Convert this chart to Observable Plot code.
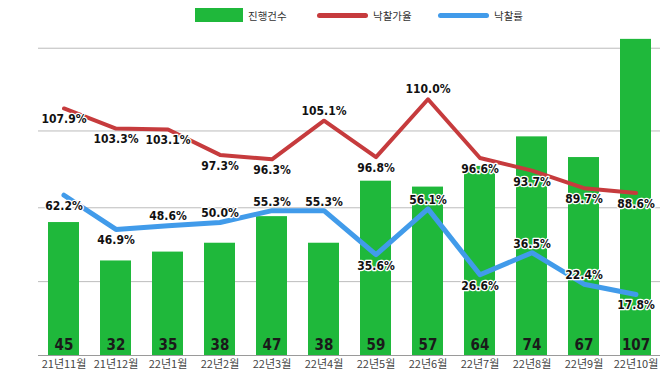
<!DOCTYPE html>
<html><head><meta charset="utf-8">
<script src="https://cdn.jsdelivr.net/npm/d3@7"></script>
<script src="https://cdn.jsdelivr.net/npm/@observablehq/plot@0.6"></script>
<style>
html,body{margin:0;padding:0;background:#fff;}
body{width:670px;height:381px;overflow:hidden;font-family:"Noto Sans CJK KR",sans-serif;}
#legend{position:relative;height:30px;width:670px;}
.item{position:absolute;top:0;height:30px;display:flex;align-items:center;font-size:10.5px;color:#333;}
.sw{display:inline-block;margin-right:5px;}
#chart svg{display:block;}
</style></head><body>
<div id="legend"></div>
<div id="chart"></div>
<script>
// ---- data ----
const months = ["21년11월","21년12월","22년1월","22년2월","22년3월","22년4월","22년5월","22년6월","22년7월","22년8월","22년9월","22년10월"];
const counts = [45,32,35,38,47,38,59,57,64,74,67,107];            // 진행건수
const bidRates = [107.9,103.3,103.1,97.3,96.3,105.1,96.8,110.0,96.6,93.7,89.7,88.6]; // 낙찰가율
const winRates = [62.2,46.9,48.6,50.0,55.3,55.3,35.6,56.1,26.6,36.5,22.4,17.8];      // 낙찰률
const gridValues = [0,25,50,76,104];
const seriesNames = ["진행건수","낙찰가율","낙찰률"];
const colors = ["#1fb83b","#c63b3d","#419bea"];

// ---- legend ----
const legend = document.getElementById("legend");
const legendLeft = [195, 317, 438];
seriesNames.forEach((name, i) => {
  const it = document.createElement("div");
  it.className = "item";
  it.style.left = legendLeft[i] + "px";
  const sw = document.createElement("span");
  sw.className = "sw";
  if (i === 0) { sw.style.width = "48px"; sw.style.height = "14px"; sw.style.background = colors[0]; }
  else { sw.style.width = "51px"; sw.style.height = "5px"; sw.style.borderRadius = "3px"; sw.style.background = colors[i]; }
  it.appendChild(sw);
  const t = document.createElement("span");
  t.textContent = name;
  it.appendChild(t);
  legend.appendChild(it);
});

// ---- chart ----
const data = months.map((m, i) => ({month: m, count: counts[i], bid: bidRates[i], win: winRates[i], i}));
const n = data.length;
const yMax = 110;
const bidY = d3.scaleLinear().domain([51.5, 125.7]).range([0, yMax]);
const winY = d3.scaleLinear().domain([-9.5, 135.9]).range([0, yMax]);

const bidAbove = d => d.i > 0 && d.i < n - 1 && d.bid > bidRates[d.i - 1] && d.bid > bidRates[d.i + 1];
const winBelow = d => d.i === 0 || d.i === n - 1 || (d.win <= winRates[d.i - 1] && d.win <= winRates[d.i + 1]);

const lblFont = "'DejaVu Sans Condensed','DejaVu Sans',sans-serif";
const lbl = (yfn, textfn, filter, dy) => Plot.text(data.filter(filter), {
  x: "month", y: yfn, text: textfn, dy,
  fontSize: 12, fontWeight: "bold", fontFamily: lblFont,
  fill: "#111", stroke: "white", strokeWidth: 2.5, paintOrder: "stroke"
});

const chart = Plot.plot({
  width: 670, height: 351,
  marginLeft: 38, marginRight: 10, marginTop: 0, marginBottom: 26,
  x: {domain: months, paddingInner: 0.41, paddingOuter: 0.123, label: null},
  y: {domain: [0, yMax], axis: null},
  style: {fontFamily: "'Noto Sans CJK KR',sans-serif", background: "#fff"},
  marks: [
    Plot.ruleY(gridValues.slice(1), {stroke: "#bcbcbc", strokeWidth: 1}),
    Plot.barY(data, {x: "month", y: "count", fill: colors[0]}),
    Plot.ruleY([0], {stroke: "#9a9a9a", strokeWidth: 1}),
    Plot.axisX({tickSize: 0, tickPadding: 5, fontSize: 11, fill: "#444", label: null}),
    Plot.text(data, {x: "month", y: 0, text: d => String(d.count), dy: -10,
      fontSize: 15, fontWeight: "bold", fontFamily: lblFont, fill: "#1a1a1a"}),
    Plot.line(data, {x: "month", y: d => bidY(d.bid), stroke: colors[1], strokeWidth: 4, strokeLinejoin: "round", strokeLinecap: "round"}),
    Plot.line(data, {x: "month", y: d => winY(d.win), stroke: colors[2], strokeWidth: 5, strokeLinejoin: "round", strokeLinecap: "round"}),
    lbl(d => bidY(d.bid), d => d.bid.toFixed(1) + "%", d => !bidAbove(d), 11),
    lbl(d => bidY(d.bid), d => d.bid.toFixed(1) + "%", d => bidAbove(d), -10),
    lbl(d => winY(d.win), d => d.win.toFixed(1) + "%", d => winBelow(d), 11),
    lbl(d => winY(d.win), d => d.win.toFixed(1) + "%", d => !winBelow(d), -9)
  ]
});
document.getElementById("chart").appendChild(chart);
</script>
</body></html>
